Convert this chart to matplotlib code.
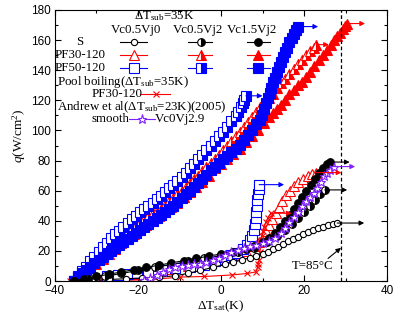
import matplotlib
matplotlib.use('Agg')
import matplotlib.pyplot as plt
from matplotlib.lines import Line2D

plt.rcParams['font.family'] = ['Liberation Serif', 'DejaVu Serif']
plt.rcParams['mathtext.fontset'] = 'custom'
plt.rcParams['mathtext.rm'] = 'Liberation Serif'
plt.rcParams['mathtext.it'] = 'Liberation Serif:italic'

# ---- data (dTsat in K, q in W/cm2) ----
# S surface
s_v0_x = [-35.5, -31, -27, -23, -19, -15, -11, -8, -5, -2, 1, 3, 5, 7, 8.5, 10, 11.3, 12.5,
          13.7, 14.9, 16.1, 17.3, 18.5, 19.7, 20.9, 22.1, 23.3, 24.5, 25.7, 26.9, 28]
s_v0_q = [0, 0.5, 1, 1.5, 2, 2.5, 3.5, 5, 7, 9, 11, 12.5, 14, 15.5, 16.8, 18, 19.5, 21,
          22.7, 24.4, 26.3, 28, 29.5, 31, 32.4, 33.7, 34.9, 36, 37, 37.9, 38.5]
s_v2_x = [-35.5, -32, -28, -24, -20, -16, -12, -8, -4, 0, 4, 8, 11, 13.5, 15.5, 17, 18.5,
          20, 21.5, 22.7, 23.8, 25]
s_v2_q = [0, 1.5, 3, 5, 7, 9, 11, 13, 15, 17, 19, 22, 26, 30, 34, 38, 42, 46, 50, 54, 57.5, 60.5]
s_v15_x = [-35.5, -33, -30, -27, -24, -21, -18, -15, -12, -9, -6, -3, 0, 3, 6, 8, 10, 11.5,
           13, 14.3, 15.5, 16.6, 17.6, 18.6, 19.6, 20.6, 21.6, 22.6, 23.6, 24.6, 25.5, 26.2]
s_v15_q = [0, 1.5, 3, 4.5, 6, 7.5, 9, 10.5, 12, 13.5, 15, 16.5, 18, 19.5, 21.5, 23.5, 26, 28.5,
           32, 36, 40, 44, 48, 52, 56, 60, 64, 68, 72, 75, 77.5, 79]

# PF30-120
p30_v0_x = [-35.5, -32, -28, -24, -20, -16, -12, -8, -4, 0, 3, 6, 8, 9.2, 10, 10.8, 11.6,
            12.4, 13.2, 14, 14.8, 15.7, 16.6, 17.6, 18.6, 19.8, 21, 22, 23]
p30_v0_q = [0, 1, 2, 3, 4.5, 6, 8, 10, 12, 14.5, 17, 20, 23, 26, 29, 33, 37,
            41, 45, 49, 53, 57, 60, 63, 65.5, 67.5, 69.5, 71, 72]
p30_v2_x = [-35.5, -34.5, -33.5, -32.5, -31.5, -30.5, -29.5, -28.5, -27.5, -26.5, -25.5,
            -24.5, -23.5, -22.5, -21.5, -20.5, -19.5, -18.5, -17.5, -16.5, -15.5, -14.5,
            -13.5, -12.5, -11.5, -10.5, -9.5, -8.5, -7.5, -6.5, -5.5, -4.5, -3.5, -2.5,
            -1.5, -0.5, 0.5, 1.5, 2.5, 3.5, 4.5, 5.5, 6.5, 7.5, 8.5, 9.5, 10.5, 11.5, 12.5,
            13.5, 14.5, 15.5, 16.5, 17.5, 18.5, 19.5, 20.5, 21.5, 22.3, 23]
p30_v2_q = [0, 2.5, 5.5, 8, 11, 13.5, 16, 18.5, 21, 23.5, 26, 28.5, 31, 33, 35, 37, 39, 41,
            43, 45, 46.5, 48, 50.5, 53, 55, 57.5, 60, 62.5, 65, 67.5, 70, 73, 76, 78.5, 81,
            84, 87, 90, 93, 96, 99, 102, 105.5, 109, 112, 115.5, 118.5, 121.5, 124.5, 128,
            131.5, 134.5, 137.5, 141, 144, 147, 150, 152.5, 155, 157]
p30_v15_x = [-34.5, -33, -31.5, -30, -28.5, -27, -25.5, -24, -22.5, -21, -19.5, -18, -16.5,
             -15, -13.5, -12, -10.5, -9, -7.5, -6, -4.5, -3, -1.5, 0, 1.5, 3, 4.5, 6, 7.5,
             9, 10.3, 11.6, 12.6, 13.5, 14.5, 15.5, 16.5, 17.5, 18.5, 19.5, 20.5, 21.5,
             22.5, 23.5, 24.5, 25.5, 26.5, 27.3, 28, 28.7, 29.3, 29.8, 30.4]
p30_v15_q = [0, 3.5, 7.5, 11, 14.5, 18, 21.5, 25, 28, 31, 34, 37, 40, 43, 46, 49, 52, 55.5,
             59, 62.5, 66, 70, 75, 78, 81, 84.5, 88, 92, 96, 100.5, 105, 109, 111.5, 114,
             117, 120.5, 124, 127, 130, 132.5, 135.5, 139, 143, 146.5, 150, 153.5, 157,
             160, 162.5, 165, 167.5, 169.5, 171]

# PF50-120
p50_v0_x = [-35.5, -33, -30.5, -27.5, -24.8, -22.5, -20.2, -17.6, -14.2, -11, -7.5, -4.1,
            -1.5, 0.7, 2.5, 3.9, 5.2, 6.3, 7, 7.5, 7.9, 8.2, 8.4, 8.5, 8.6, 8.7, 8.9, 9.1, 9.2]
p50_v0_q = [0, 1, 2, 3, 4, 4.5, 5, 6, 7.3, 8.6, 9.5, 10.6,
            13, 16, 17.5, 18.6, 21, 24, 27, 30, 34, 38, 42, 46, 50, 54, 58, 61, 64]
p50_v2_x = [-35.5, -34.5, -33.5, -32.5, -31.5, -30.5, -29.5, -28.5, -27.5, -26.5, -25.5,
            -24.5, -23.5, -22.5, -21.5, -20.5, -19.5, -18.5, -17.5, -16.5, -15.5, -14.5,
            -13.5, -12.5, -11.5, -10.5, -9.5, -8.5, -7.5, -6.5, -5.5, -4.5, -3.5, -2.5,
            -1.5, -0.5, 0.5, 1.5, 2.5, 3.5, 4.2, 4.8, 5.2, 5.6, 6]
p50_v2_q = [0, 3, 6.5, 9.5, 13, 16, 19.5, 22.5, 25.5, 28.5, 31, 33.5, 36, 38.5, 41, 43,
            45.5, 48, 50, 52, 54.5, 56.5, 59, 61.5, 64, 66.5, 69, 72, 75, 78, 81, 84, 87,
            90, 93, 96, 99, 102.5, 106, 109.5, 112.5, 115.5, 118, 120.5, 123]
p50_v15_x = [-35.5, -34.5, -33.5, -32.5, -31.5, -30.5, -29.5, -28.5, -27.5, -26.5, -25.5,
             -24.5, -23.5, -22.5, -21.5, -20.5, -19.5, -18.5, -17.5, -16.5, -15.5, -14.5,
             -13.5, -12.5, -11.5, -10.5, -9.5, -8.5, -7.5, -6.5, -5.5, -4.5, -3.5, -2.5,
             -1.5, -0.5, 0.5, 1.5, 2.5, 3.5, 4.5, 5.5, 6.5, 7.5, 8.5, 9.4, 9.9, 10.4, 10.9,
             11.3, 11.7, 12.1, 12.6, 13, 13.5, 14, 14.5, 15, 15.5, 16, 16.5, 17, 17.5, 18,
             18.6]
p50_v15_q = [0, 2.5, 5, 7.5, 9.5, 12, 14, 16, 18, 20, 22, 24, 26, 28, 30, 32, 34, 36, 38,
             40, 42, 44, 46, 48, 50, 52.5, 55, 57.5, 60, 62.5, 65, 67.5, 70.5, 73.5, 76,
             78.5, 81, 83, 85.5, 88, 90.5, 93.5, 97, 100.5, 104, 107, 110.5, 114, 118,
             121.5, 125, 128.5, 132, 135, 138.5, 142, 145.5, 149, 152, 155, 158.5, 161.5,
             164, 166.5, 169]

# pool boiling PF30-120, dTsub = 35K
pool_x = [-36.4, -32.3, -28, -22.4, -16.6, -9.9, -4, 2.6, 6.3, 8.4, 8.8, 9.0, 9.2, 9.4,
          9.6, 9.8, 10.1, 10.4, 10.8, 11.3, 12]
pool_q = [0, 0, 0.5, 0.5, 1, 2.6, 3, 4, 5, 6, 9, 11.5, 14, 19, 25, 30, 33, 36, 39, 42, 45]

# Andrew et al. (dTsub = 23K, 2005), smooth Vc0Vj2.9
andr_x = [-18.5, -17, -15.5, -14, -12.5, -11, -9.5, -8, -6.5, -5, -3.5, -2, -0.5, 1, 2.5,
          4, 5.5, 7, 8.5, 10, 11.5, 13, 14.5, 15.5, 16.5, 17.5, 18.5, 19.5, 20.5, 21.5,
          22.4, 23.2, 24, 24.8, 25.5, 26.3, 27.2]
andr_q = [0.5, 2, 4, 6, 8, 9, 10, 10.5, 11, 11.5, 12.5, 14, 15.5, 17, 19, 20.5, 22, 23, 24,
          25, 26.5, 28.5, 32, 35, 39, 42.5, 46, 50, 53, 56, 58.5, 62, 66, 69.5, 72, 74, 76]

# x where the "continues" arrow after each curve ends
arrow_end = {'s_v0': 34.5, 's_v2': 30.4, 's_v15': 31, 'p30_v0': 29, 'p30_v2': 26,
             'p30_v15': 34.7, 'p50_v0': 15.2, 'p50_v2': 10, 'p50_v15': 23.4,
             'pool': 17, 'andr': 32.3}

BLUE = '#0000ff'
RED = '#ff0000'
BLACK = '#000000'
PURPLE = '#8020ff'

fig = plt.figure(figsize=(4.08, 3.21), dpi=100)
ax = fig.add_axes([55 / 408, 1 - 281 / 321, 332 / 408, 271 / 321])


def curve(key, x, q, color, marker, fill, ms):
    kw = dict(color=color, lw=0.8, marker=marker, ms=ms, mew=0.8, mec=color)
    if fill == 'open':
        kw['mfc'] = 'white'
    elif fill == 'half':
        kw['mfc'] = color
        kw['fillstyle'] = 'right'
        kw['markerfacecoloralt'] = 'white'
    elif fill == 'full':
        kw['mfc'] = color
    ax.plot(x, q, **kw)
    ax.annotate('', xy=(arrow_end[key], q[-1]), xytext=(x[-1], q[-1]),
                arrowprops=dict(arrowstyle='-|>', color=color, lw=0.8,
                                mutation_scale=7, shrinkA=0, shrinkB=0))
    return kw


styles = {}
styles['p30_v0'] = curve('p30_v0', p30_v0_x, p30_v0_q, RED, '^', 'open', 6.5)
styles['p30_v2'] = curve('p30_v2', p30_v2_x, p30_v2_q, RED, '^', 'half', 6.5)
styles['p30_v15'] = curve('p30_v15', p30_v15_x, p30_v15_q, RED, '^', 'full', 6.5)
styles['pool'] = curve('pool', pool_x, pool_q, RED, 'x', 'none', 5)
styles['p50_v0'] = curve('p50_v0', p50_v0_x, p50_v0_q, BLUE, 's', 'open', 6.5)
styles['p50_v2'] = curve('p50_v2', p50_v2_x, p50_v2_q, BLUE, 's', 'half', 6.5)
styles['p50_v15'] = curve('p50_v15', p50_v15_x, p50_v15_q, BLUE, 's', 'full', 6.5)
styles['s_v0'] = curve('s_v0', s_v0_x, s_v0_q, BLACK, 'o', 'open', 4.5)
styles['s_v2'] = curve('s_v2', s_v2_x, s_v2_q, BLACK, 'o', 'half', 5.5)
styles['s_v15'] = curve('s_v15', s_v15_x, s_v15_q, BLACK, 'o', 'full', 5.5)
styles['andr'] = curve('andr', andr_x, andr_q, PURPLE, '*', 'open', 6.5)

ax.axvline(29, color='k', ls=(0, (3, 2)), lw=0.9)
ax.text(17, 10, 'T=85°C', fontsize=9.3, va='center', ha='left')
ax.annotate('', xy=(28.9, 22), xytext=(25.8, 15),
            arrowprops=dict(arrowstyle='-|>', color='k', lw=0.8, mutation_scale=7,
                            shrinkA=0, shrinkB=0))

ax.set_xlim(-40, 40)
ax.set_ylim(0, 180)
ax.set_xticks([-40, -20, 0, 20, 40])
ax.set_xticks(range(-40, 41, 10), minor=True)
ax.set_yticks(range(0, 181, 20))
ax.set_yticks(range(0, 181, 10), minor=True)
ax.tick_params(which='both', direction='in', top=True, right=True, width=0.8)
ax.tick_params(which='major', length=4, labelsize=8.5, pad=3)
ax.tick_params(which='minor', length=2.5)
for lab in ax.get_xticklabels() + ax.get_yticklabels():
    lab.set_fontfamily('Liberation Sans')
for sp in ax.spines.values():
    sp.set_linewidth(0.8)

ax.set_xlabel(r'$\Delta$T$_{\rm sat}$(K)', fontsize=9.5, labelpad=1)
ax.set_ylabel(r'$q$(W/cm$^{2}$)', fontsize=9.5)
ax.yaxis.set_label_coords(-0.08, 0.535)


# ---- table-style legend, placed in figure pixels ----
def fx(px):
    return px / 408


def fy(py):
    return 1 - py / 321


FS = 9.3


def label(px, py, s, ha='left'):
    fig.text(fx(px), fy(py), s, fontsize=FS, ha=ha, va='center')


def sample(x0, x1, xm, py, key):
    kw = dict(styles[key])
    fig.add_artist(Line2D([fx(x0), fx(x1)], [fy(py), fy(py)], transform=fig.transFigure,
                          color=kw['color'], lw=0.8))
    kw['lw'] = 0
    fig.add_artist(Line2D([fx(xm)], [fy(py)], transform=fig.transFigure, **kw))


label(164, 16, r'$\Delta$T$_{\rm sub}$=35K', ha='center')
label(136, 30, 'Vc0.5Vj0', ha='center')
label(198, 30, 'Vc0.5Vj2', ha='center')
label(252, 30, 'Vc1.5Vj2', ha='center')
label(80, 42, 'S', ha='center')
label(55, 55, 'PF30-120')
label(55, 68, 'PF50-120')
rows = [(42, ['s_v0', 's_v2', 's_v15']),
        (55, ['p30_v0', 'p30_v2', 'p30_v15']),
        (68, ['p50_v0', 'p50_v2', 'p50_v15'])]
cols = [(120, 147, 134), (188, 212, 201), (247, 270, 258)]
for py, keys in rows:
    for (x0, x1, xm), key in zip(cols, keys):
        sample(x0, x1, xm, py, key)

label(57, 82, r'Pool boiling($\Delta$T$_{\rm sub}$=35K)')
label(92, 94, 'PF30-120')
sample(140, 170, 156, 94, 'pool')
label(57, 107, r'Andrew et al($\Delta$T$_{\rm sub}$=23K)(2005)')
label(129, 119, 'smooth', ha='right')
sample(129, 155, 142, 119, 'andr')
label(155, 119, 'Vc0Vj2.9')

fig.savefig('out.png', dpi=100)
